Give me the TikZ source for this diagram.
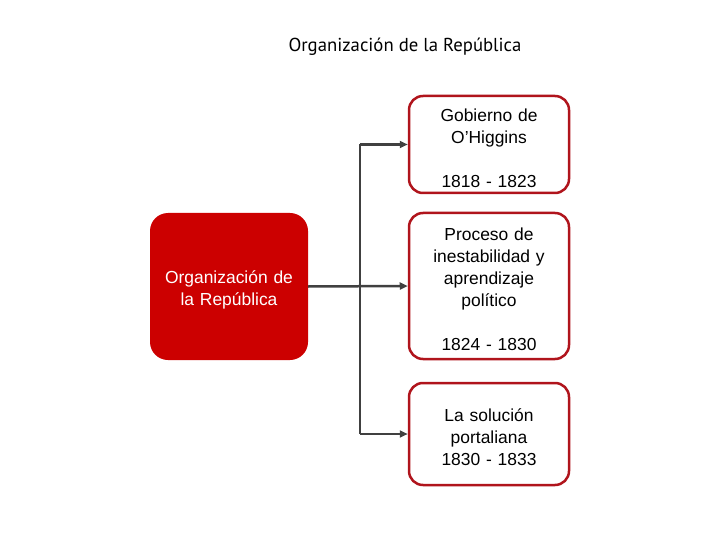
\documentclass[tikz,border=0pt]{standalone}
\usepackage{fontspec}
\setmainfont{Liberation Sans}
\newfontfamily\titulofont{PT Sans}
\usetikzlibrary{arrows.meta}
\usetikzlibrary{positioning}

\definecolor{rojo}{RGB}{204,0,0}
\definecolor{borde}{RGB}{176,20,28}
\definecolor{gris}{RGB}{64,64,64}

\newcommand{\margen}{\rule{0pt}{19.5bp}}

\tikzset{
  caja/.style={draw=borde, line width=2.5bp, rounded corners=14bp, fill=white,
    minimum width=160bp, text width=156bp, align=center, inner sep=0pt,
    font=\fontsize{17.5}{22}\selectfont, execute at begin node=\margen},
  principal/.style={fill=rojo, rounded corners=18bp, minimum width=158bp,
    minimum height=147bp, text width=150bp, align=center, text=white, inner sep=0pt,
    font=\fontsize{17.5}{22}\selectfont, execute at begin node=\margen},
  linea/.style={draw=gris, line width=2.5bp},
  flecha/.style={linea, -{Triangle[length=8bp,width=7bp]}}
}

\begin{document}
\begin{tikzpicture}[x=1bp,y=-1bp]
    \useasboundingbox (0,0) rectangle (720,540);

    % titulo
    \node (titulo) at (405,47) {\titulofont\fontsize{18.8}{20}\selectfont Organización de la República};

    % cajas
    \node[principal] (org) at (229,286.5) {Organización de\\la República};
    \node[caja, minimum height=97bp] (gobierno) at (489,144.5) {Gobierno de\\O’Higgins\\[22bp]1818 - 1823};
    \node[caja, minimum height=146bp] (proceso) at (489,286) {Proceso de\\inestabilidad y\\aprendizaje\\político\\[22bp]1824 - 1830};
    \node[caja, minimum height=102bp] (solucion) at (489,434) {La solución\\portaliana\\1830 - 1833};

    % conectores
    \coordinate (eje) at (360,288);
    \draw[linea] (eje |- gobierno.west) -- (eje |- solucion.west);
    \draw[flecha] (org.east) -- (proceso.west);
    \draw[flecha] (eje |- gobierno.west) -- (gobierno.west);
    \draw[flecha] (eje |- solucion.west) -- (solucion.west);

  \end{tikzpicture}
\end{document}
